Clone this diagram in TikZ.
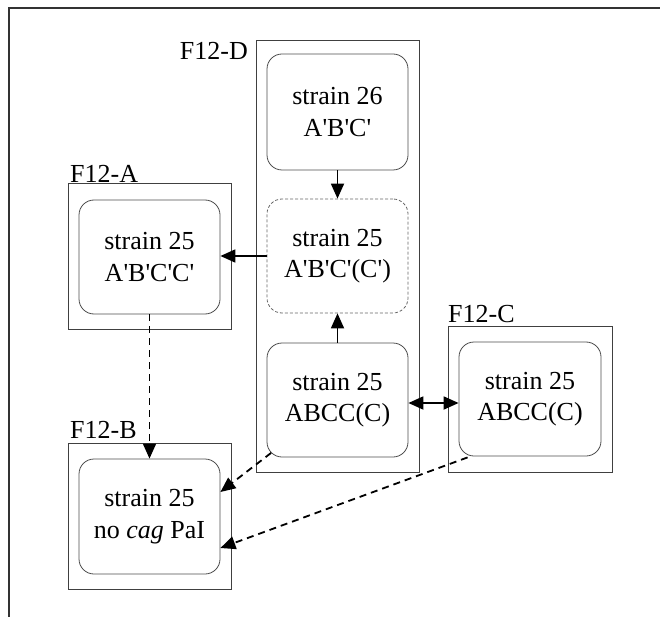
\documentclass[tikz,border=0pt]{standalone}
\usepackage{fontspec}
\setmainfont{Liberation Serif}
\usetikzlibrary{arrows.meta,calc}
\newcommand{\pr}{\textquotesingle}
\tikzset{
  strainbox/.style={draw=black!70, line width=0.8pt, rounded corners=15pt,
    minimum width=141pt, inner sep=0pt, align=center,
    font=\fontsize{26}{31.5}\selectfont},
  dashbox/.style={strainbox, draw=black!60, dash pattern=on 3pt off 2pt},
  frame/.style={draw=black!75, line width=1pt},
  flabel/.style={font=\fontsize{26}{31.5}\selectfont, inner sep=0pt},
  tip/.style={Triangle[length=15pt,width=13pt]},
  link/.style={line width=1.8pt, -{Triangle[length=15pt,width=13pt]}},
  dlink/.style={link, dash pattern=on 7pt off 5pt},
}
\begin{document}
\begin{tikzpicture}[x=1pt,y=-1pt]
\useasboundingbox (0,0) rectangle (660,617);
% outer partial frame
\draw[line width=1.3pt, black!80] (9,617) -- (9,8) -- (660,8);
% group frames
\node[frame, minimum width=163pt, minimum height=431pt, inner sep=0pt] (fD) at (337.5,256.5) {};
\node[frame, minimum width=163pt, minimum height=145pt, inner sep=0pt] (fA) at (149.5,256.5) {};
\node[frame, minimum width=163pt, minimum height=146pt, inner sep=0pt] (fB) at (149.5,516) {};
\node[frame, minimum width=164pt, minimum height=146pt, inner sep=0pt] (fC) at (530,399) {};
% frame labels
\node[flabel, anchor=base east] (lD) at (248,60) {F12-D};
\node[flabel, anchor=base west] (lA) at (70,183) {F12-A};
\node[flabel, anchor=base west] (lB) at (70,438) {F12-B};
\node[flabel, anchor=base west] (lC) at (448,322) {F12-C};
% strain boxes
\node[strainbox, minimum height=116pt] (s26) at (337.5,112) {strain 26\\A\pr B\pr C\pr};
\node[dashbox, minimum height=114pt] (s25d) at (337.5,256) {strain 25\\A\pr B\pr C\pr(C\pr)};
\node[strainbox, minimum height=114pt] (s25abcc) at (337.5,400) {strain 25\\ABCC(C)};
\node[strainbox, minimum height=114pt] (s25a) at (149.5,257) {strain 25\\A\pr B\pr C\pr C\pr};
\node[strainbox, minimum height=115pt] (s25b) at (149.5,516.5) {strain 25\\no \textit{cag} PaI};
\node[strainbox, minimum width=142pt, minimum height=114pt] (s25c) at (530,399) {strain 25\\ABCC(C)};
% connectors
\draw[link] (s26.south) -- (s25d.north);
\draw[link] (s25abcc.north) -- (s25d.south);
\draw[link] (s25d.west) -- (s25a.east |- s25d.west);
\draw[link, {Triangle[length=15pt,width=13pt]}-{Triangle[length=15pt,width=13pt]}]
  ([yshift=-3pt]s25abcc.east) -- ([yshift=-4pt]s25c.west);
\draw[dlink] (s25a.south) -- (s25a.south |- s25b.north);
\coordinate (dstart) at ([shift={(4.5,-4.5)}]s25abcc.south west);
\coordinate (cstart) at ([shift={(9,1)}]s25c.south west);
\draw[dlink] (dstart) -- ([yshift=24.5pt]s25b.east);
\draw[dlink] (cstart) -- ([yshift=-31.5pt]s25b.east);
\end{tikzpicture}
\end{document}
